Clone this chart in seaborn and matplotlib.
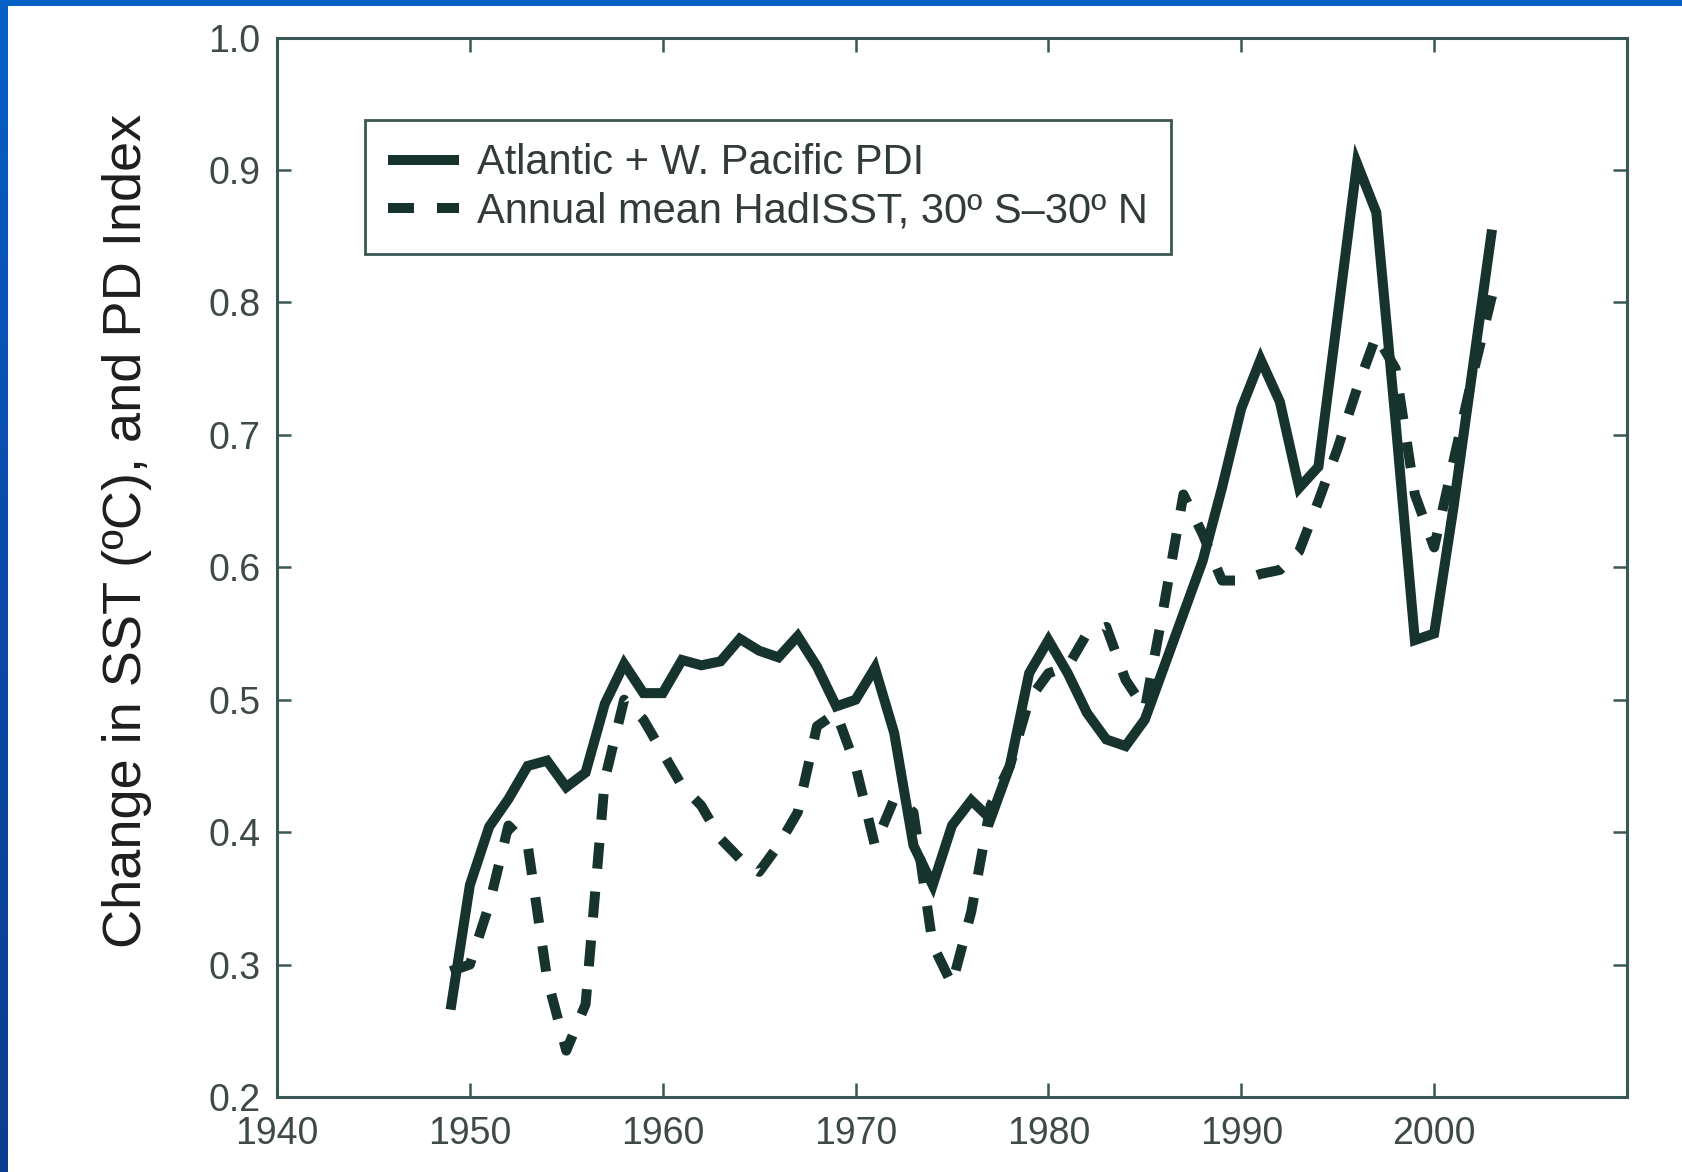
import numpy as np
import pandas as pd
import matplotlib
matplotlib.use("Agg")
import matplotlib.pyplot as plt
from matplotlib.patches import Rectangle
import seaborn as sns

# Annual series, 1949-2003
years = list(range(1949, 2004))

pdi = [0.266, 0.36, 0.404, 0.425, 0.45, 0.454, 0.434, 0.445, 0.497, 0.527,
       0.505, 0.505, 0.53, 0.526, 0.529, 0.546, 0.537, 0.532, 0.548, 0.525,
       0.495, 0.50, 0.524, 0.475, 0.39, 0.36, 0.405, 0.424, 0.41, 0.45,
       0.52, 0.545, 0.52, 0.49, 0.47, 0.465, 0.485, 0.525, 0.565, 0.605,
       0.66, 0.72, 0.757, 0.725, 0.66, 0.676, 0.79, 0.905, 0.868, 0.71,
       0.545, 0.55, 0.645, 0.75, 0.855]

sst = [0.295, 0.30, 0.345, 0.405, 0.39, 0.29, 0.235, 0.27, 0.44, 0.50,
       0.485, 0.46, 0.435, 0.42, 0.395, 0.38, 0.37, 0.39, 0.415, 0.48,
       0.49, 0.45, 0.39, 0.425, 0.415, 0.315, 0.285, 0.34, 0.42, 0.45,
       0.50, 0.52, 0.525, 0.55, 0.555, 0.515, 0.493, 0.572, 0.655, 0.625,
       0.59, 0.59, 0.595, 0.598, 0.612, 0.65, 0.69, 0.735, 0.775, 0.75,
       0.655, 0.615, 0.68, 0.745, 0.805]

series_names = ["Atlantic + W. Pacific PDI",
                "Annual mean HadISST, 30\u00ba S\u201330\u00ba N"]
x_ticks = [1940, 1950, 1960, 1970, 1980, 1990, 2000]
y_ticks = [0.2, 0.3, 0.4, 0.5, 0.6, 0.7, 0.8, 0.9, 1.0]
y_label = "Change in SST (\u00baC), and PD Index"

df = pd.DataFrame({"year": years, "pdi": pdi, "sst": sst})

sns.set_theme(style="white")
plt.rcParams["font.family"] = ["Liberation Sans", "DejaVu Sans"]

LINE = "#17332e"
SPINE = "#3a5853"
TICKTXT = "#3f4a48"

fig = plt.figure(figsize=(16.83, 11.72), dpi=100)
fig.patch.set_facecolor("#0561c6")

# left strip shading, darker towards the bottom
strip = fig.add_axes([0, 0, 8 / 1683, 1])
grad = np.linspace(0, 1, 256).reshape(-1, 1)
strip.imshow(grad, aspect="auto",
             cmap=matplotlib.colors.LinearSegmentedColormap.from_list(
                 "b", ["#0660c6", "#0a4aa8", "#0b3d8e"]),
             extent=[0, 1, 0, 1], origin="upper")
strip.set_axis_off()

# white panel
fig.add_artist(Rectangle((8 / 1683, 0), 1 - 8 / 1683, 1 - 6 / 1172,
                         transform=fig.transFigure, facecolor="white",
                         edgecolor="none", zorder=0))

ax = fig.add_axes([277 / 1683, (1172 - 1097) / 1172,
                   1350 / 1683, 1059.4 / 1172])
ax.set_facecolor("white")

sns.lineplot(data=df, x="year", y="pdi", ax=ax, color=LINE, linewidth=7.2,
             label=series_names[0], solid_joinstyle="miter",
             solid_capstyle="butt")
sns.lineplot(data=df, x="year", y="sst", ax=ax, color=LINE, linewidth=7.2,
             linestyle=(0, (2.6, 2.3)), label=series_names[1],
             dash_capstyle="butt")

ax.set_xlim(1940, 2010)
ax.set_ylim(0.2, 1.0)
ax.set_xticks(x_ticks)
ax.set_yticks(y_ticks)
ax.set_xticklabels([str(t) for t in x_ticks])
ax.set_yticklabels([f"{t:.1f}" for t in y_ticks])

for s in ax.spines.values():
    s.set_visible(True)
    s.set_color(SPINE)
    s.set_linewidth(2.2)

ax.tick_params(axis="both", which="major", direction="in", length=10,
               width=1.8, color=SPINE, labelsize=27, labelcolor=TICKTXT,
               top=True, right=True, bottom=True, left=True)
ax.tick_params(axis="x", pad=14)
ax.tick_params(axis="y", pad=12)

ax.set_xlabel("")
ax.set_ylabel(y_label, fontsize=39, color="#1e1e1e")
ax.yaxis.set_label_coords(-0.0925, 0.534)

leg = ax.legend(loc="upper left", bbox_to_anchor=(0.065, 0.922),
                fontsize=30, frameon=True, fancybox=False, framealpha=1,
                edgecolor=SPINE, handlelength=1.7, handletextpad=0.45,
                labelspacing=0.2, borderpad=0.55, borderaxespad=0)
leg.get_frame().set_linewidth(2.0)
for t in leg.get_texts():
    t.set_color("#333b3a")

fig.savefig("out.png", dpi=100, facecolor=fig.get_facecolor())
